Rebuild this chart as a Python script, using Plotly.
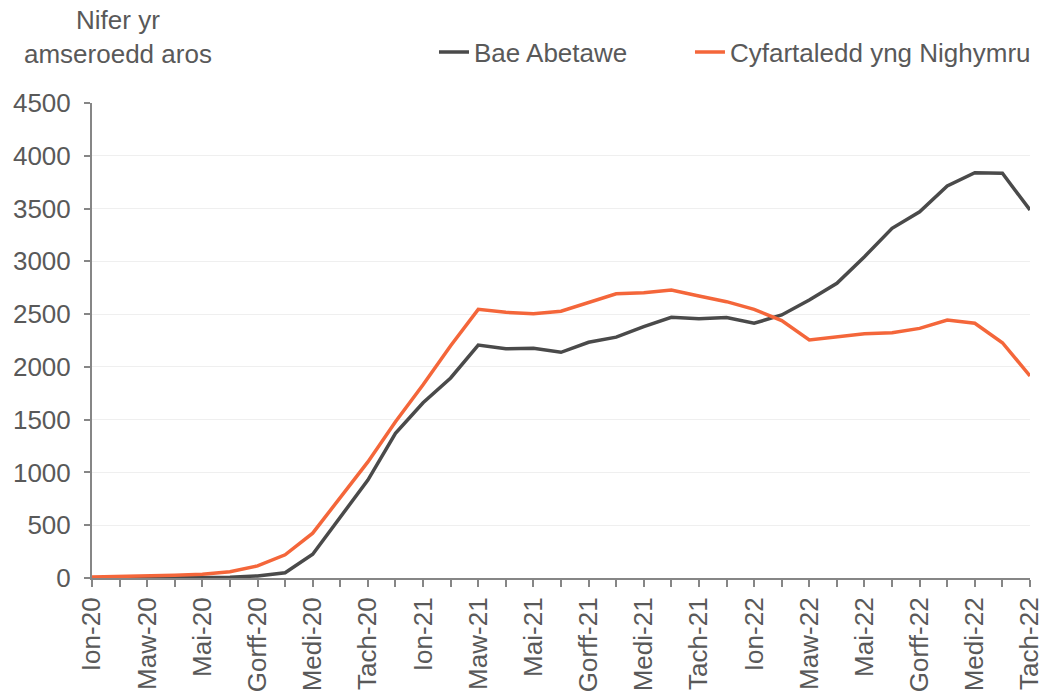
import plotly.graph_objects as go

months = [
    "Ion-20", "Chwef-20", "Maw-20", "Ebr-20", "Mai-20", "Meh-20", "Gorff-20", "Awst-20",
    "Medi-20", "Hyd-20", "Tach-20", "Rhag-20",
    "Ion-21", "Chwef-21", "Maw-21", "Ebr-21", "Mai-21", "Meh-21", "Gorff-21", "Awst-21",
    "Medi-21", "Hyd-21", "Tach-21", "Rhag-21",
    "Ion-22", "Chwef-22", "Maw-22", "Ebr-22", "Mai-22", "Meh-22", "Gorff-22", "Awst-22",
    "Medi-22", "Hyd-22", "Tach-22",
]

bae_abertawe = [
    0, 0, 2, 3, 5, 8, 20, 50, 225, 580, 928, 1370,
    1660, 1895, 2207, 2172, 2176, 2138, 2233, 2282, 2381, 2470, 2456, 2468,
    2413, 2492, 2634, 2792, 3044, 3313, 3470, 3714, 3840, 3834, 3486,
]

cymru = [
    10, 14, 18, 25, 35, 60, 115, 220, 425, 765, 1100, 1480,
    1830, 2200, 2545, 2517, 2504, 2527, 2608, 2693, 2703, 2728, 2671, 2618,
    2545, 2438, 2255, 2286, 2314, 2324, 2365, 2444, 2413, 2229, 1914,
]

series_names = ["Bae Abetawe", "Cyfartaledd yng Nighymru"]
y_title = "Nifer yr<br>amseroedd aros"
y_ticks = [0, 500, 1000, 1500, 2000, 2500, 3000, 3500, 4000, 4500]

tick_text = [m if i % 2 == 0 else "" for i, m in enumerate(months)]

TXT = "#595959"
FONT = "Liberation Sans, Arial, sans-serif"
FS = 26

fig = go.Figure()
fig.add_trace(go.Scatter(x=months, y=bae_abertawe, mode="lines", name=series_names[0],
                         line=dict(color="#4a4a4a", width=3.5), legend="legend"))
fig.add_trace(go.Scatter(x=months, y=cymru, mode="lines", name=series_names[1],
                         line=dict(color="#f4663a", width=3.5), legend="legend2"))

legend_style = dict(orientation="h", y=1.107, yanchor="middle", xanchor="left",
                    font=dict(family=FONT, size=FS, color=TXT),
                    bgcolor="rgba(0,0,0,0)", itemwidth=30)

fig.update_layout(
    width=1042, height=691,
    margin=dict(l=92, r=12, t=103, b=113, autoexpand=False),
    paper_bgcolor="white", plot_bgcolor="white",
    font=dict(family=FONT, size=FS, color=TXT),
    showlegend=True,
    legend=dict(x=0.3646, **legend_style),
    legend2=dict(x=0.6375, **legend_style),
    xaxis=dict(
        type="category", range=[0, len(months) - 1], automargin=False,
        tickmode="array", tickvals=months, ticktext=tick_text, tickangle=-90,
        ticks="outside", ticklen=7, tickcolor="#868686", tickwidth=1.5,
        showline=True, linecolor="#868686", linewidth=2,
        showgrid=False, zeroline=False,
        tickfont=dict(family=FONT, size=FS, color=TXT),
    ),
    yaxis=dict(
        range=[0, 4500], tickmode="array", tickvals=y_ticks, automargin=False,
        ticks="outside", ticklen=6, tickcolor="#868686", tickwidth=1.5,
        ticklabelstandoff=8,
        showline=True, linecolor="#868686", linewidth=2,
        showgrid=True, gridcolor="#efefef", gridwidth=1,
        zeroline=False,
        tickfont=dict(family=FONT, size=FS, color=TXT),
    ),
    annotations=[dict(
        text=y_title, xref="paper", yref="paper", x=0.028, y=1.138,
        xanchor="center", yanchor="middle", showarrow=False, align="center",
        font=dict(family=FONT, size=FS, color=TXT),
    )],
)

fig.write_html(
    "out.html",
    config={"displayModeBar": False},
    post_script="document.body.style.margin='0';document.body.style.overflow='hidden';",
)
